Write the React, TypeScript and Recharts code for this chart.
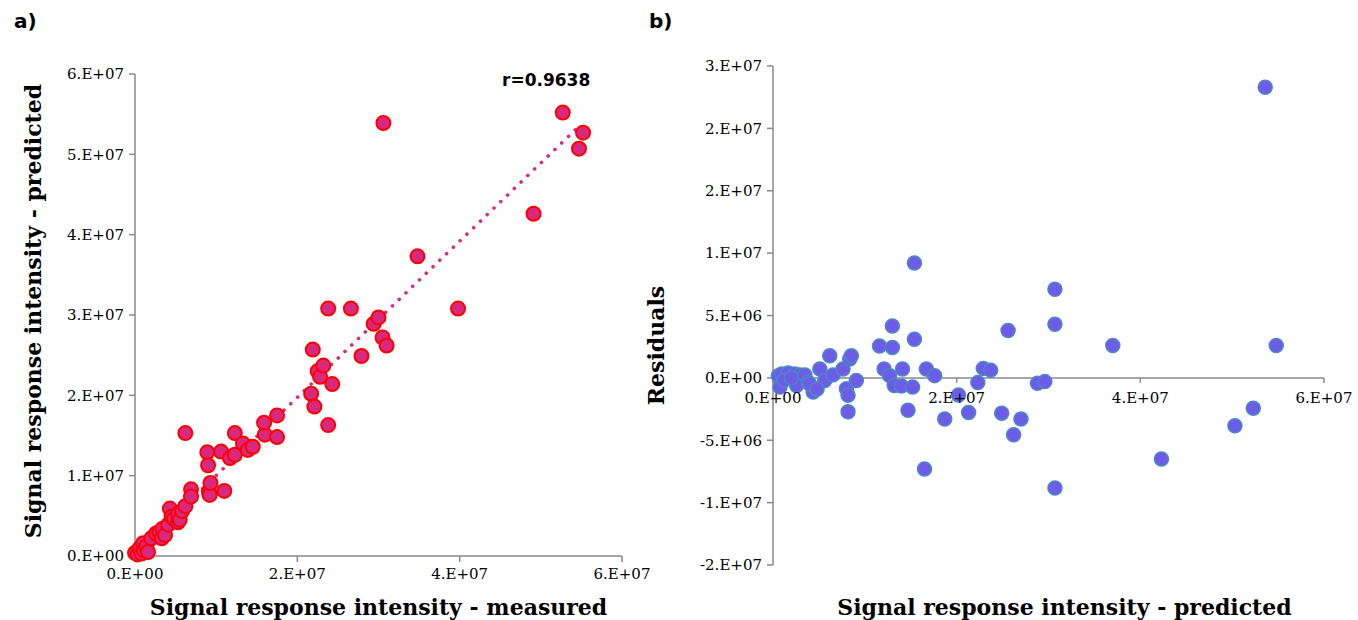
import React from 'react';
import { ScatterChart, Scatter, XAxis, YAxis, ReferenceLine, ReferenceDot } from 'recharts';

// values in units of 1e6 (axis labels carry the real exponent)

// a) measured vs predicted
const measured = [
  0.0, 0.3, 0.6, 0.8, 1.0, 1.1, 1.4, 1.6, 2.0, 2.6,
  3.0, 3.3, 3.4, 3.7, 4.1, 4.3, 4.5, 4.8, 5.3, 5.3,
  5.5, 5.8, 6.2, 6.2, 6.9, 6.9, 8.9, 9.0, 9.1, 9.2,
  9.3, 10.6, 11.0, 11.7, 12.3, 12.3, 13.3, 13.9, 14.5, 16.0,
  15.9, 17.5, 17.5, 21.7, 22.1, 21.9, 22.5, 22.8, 23.2, 24.3,
  23.8, 23.8, 26.6, 27.9, 29.4, 30.0, 30.5, 31.0, 30.6, 34.8,
  39.8, 49.1, 52.7, 55.2, 54.7,
];
const predicted = [
  0.4, 0.2, 1.0, 0.3, 1.6, 0.7, 1.2, 0.5, 2.2, 2.8,
  3.0, 2.2, 3.4, 2.6, 3.9, 5.9, 4.9, 4.6, 5.3, 4.2,
  4.5, 5.6, 6.2, 15.3, 8.3, 7.4, 12.9, 11.3, 8.0, 7.6,
  9.1, 13.0, 8.1, 12.2, 12.6, 15.3, 14.0, 13.2, 13.6, 15.1,
  16.6, 17.5, 14.8, 20.2, 18.6, 25.7, 23.0, 22.3, 23.7, 21.4,
  16.3, 30.8, 30.8, 24.9, 28.9, 29.7, 27.2, 26.2, 53.9, 37.3,
  30.8, 42.6, 55.2, 52.7, 50.7,
];
// linear trend line ends
const trendX = [0, 54.5];
const trendY = [0.3, 53.3];

const aYTicks = [0, 10, 20, 30, 40, 50, 60];
const aYLabels = ['0.E+00', '1.E+07', '2.E+07', '3.E+07', '4.E+07', '5.E+07', '6.E+07'];
const aXTicks = [0, 20, 40, 60];
const aXLabels = ['0.E+00', '2.E+07', '4.E+07', '6.E+07'];

// b) residuals vs predicted
const bPredicted = [
  0.58, 0.94, 1.66, 2.39, 2.93, 3.47, 0.76, 2.57, 3.83, 4.37,
  5.1, 5.64, 6.18, 6.54, 7.62, 8.35, 8.53, 8.0, 8.17, 9.08,
  8.17, 11.6, 12.1, 13.0, 13.0, 12.7, 13.2, 14.1, 14.0, 15.2,
  15.4, 14.7, 16.7, 17.6, 18.7, 15.4, 16.5, 22.9, 23.7, 22.3,
  20.2, 21.3, 24.9, 27.0, 26.2, 25.6, 28.8, 29.6, 30.7, 30.7,
  30.7, 37.0, 53.6, 54.8, 52.3, 50.3, 42.3, 1.2, 2.0, 4.0,
  4.8,
];
const residuals = [
  0.18, 0.32, 0.4, 0.32, 0.24, 0.24, -0.74, -0.61, -0.34, -1.14,
  0.71, -0.21, 1.77, 0.24, 0.71, 1.51, 1.77, -0.87, -1.4, -0.21,
  -2.72, 2.56, 0.71, 4.15, 2.44, 0.18, -0.61, 0.71, -0.66, -0.74,
  3.1, -2.6, 0.71, 0.18, -3.3, 9.2, -7.3, 0.76, 0.62, -0.38,
  -1.37, -2.77, -2.83, -3.3, -4.56, 3.8, -0.44, -0.3, 7.1, 4.3,
  -8.83, 2.6, 23.3, 2.6, -2.43, -3.84, -6.5, -0.2, 0.0, -0.5,
  -0.9,
];

const bYTicks = [-15, -10, -5, 0, 5, 10, 15, 20, 25];
const bYLabels = ['-2.E+07', '-1.E+07', '-5.E+06', '0.E+00', '5.E+06', '1.E+07', '2.E+07', '2.E+07', '3.E+07'];
const bXTicks = [0, 20, 40, 60];
const bXLabels = ['0.E+00', '2.E+07', '4.E+07', '6.E+07'];

const SERIF = '"DejaVu Serif", serif';
const SANS = '"DejaVu Sans", sans-serif';
const AXIS = '#898989';
const tickStyle = { fill: '#000', fontSize: 15, fontFamily: SERIF };
const titleStyle = { fill: '#000', fontSize: 22, fontFamily: SERIF, fontWeight: 'bold' };

const aPoints = measured.map((x, i) => ({ x, y: predicted[i] }));
const trend = trendX.map((x, i) => ({ x, y: trendY[i] }));
const bPoints = bPredicted.map((x, i) => ({ x, y: residuals[i] }));

const fmt = (ticks: number[], labels: string[]) => (v: number) => labels[ticks.indexOf(v)] ?? '';

const RedDot = (p: any) => (
  <circle cx={p.cx} cy={p.cy} r={7} fill="#d8297f" stroke="#ff0000" strokeWidth={2} />
);
const BlueDot = (p: any) => (
  <circle cx={p.cx} cy={p.cy} r={7} fill="#6c5ce7" stroke="#4f86c6" strokeWidth={1.5} />
);
const NoDot = () => <g />;
const ZeroTick = (p: any) => (
  <line x1={p.cx} y1={p.cy} x2={p.cx} y2={p.cy + 5} stroke={AXIS} strokeWidth={1.5} />
);

const corner: React.CSSProperties = {
  position: 'absolute',
  fontFamily: SANS,
  fontWeight: 'bold',
  fontSize: 20,
  lineHeight: '20px',
  color: '#000',
};

export default function App() {
  return (
    <div style={{ position: 'absolute', left: 0, top: 0, width: 1358, height: 620, background: '#fff' }}>
      <div style={{ ...corner, left: 14, top: 11 }}>a)</div>
      <div style={{ ...corner, left: 649, top: 11 }}>b)</div>
      <div style={{ ...corner, left: 502, top: 70, fontSize: 17 }}>r=0.9638</div>

      <div style={{ position: 'absolute', left: 0, top: 0 }}>
        <ScatterChart width={660} height={620} margin={{ top: 74, right: 38, bottom: 4, left: 10 }}>
          <XAxis
            type="number"
            dataKey="x"
            domain={[0, 60]}
            ticks={aXTicks}
            tickFormatter={fmt(aXTicks, aXLabels)}
            tick={tickStyle}
            tickMargin={6}
            height={60}
            stroke={AXIS}
            strokeWidth={1.5}
            label={{ value: 'Signal response intensity - measured', position: 'center', dy: 21, ...titleStyle }}
          />
          <YAxis
            type="number"
            dataKey="y"
            domain={[0, 60]}
            ticks={aYTicks}
            tickFormatter={fmt(aYTicks, aYLabels)}
            tick={tickStyle}
            tickMargin={5}
            width={125}
            stroke={AXIS}
            strokeWidth={1.5}
            label={{ value: 'Signal response intensity - predicted', position: 'center', angle: -90, dx: -39, dy: -4, ...titleStyle }}
          />
          <Scatter
            data={trend}
            shape={NoDot}
            line={{ stroke: '#d8297f', strokeWidth: 3.5, strokeDasharray: '0.1 9.3', strokeLinecap: 'round' }}
            isAnimationActive={false}
          />
          <Scatter data={aPoints} shape={RedDot} isAnimationActive={false} />
        </ScatterChart>
      </div>

      <div style={{ position: 'absolute', left: 630, top: 0 }}>
        <ScatterChart width={728} height={620} margin={{ top: 66, right: 34, bottom: 5, left: 10 }}>
          <XAxis
            type="number"
            dataKey="x"
            domain={[0, 60]}
            ticks={bXTicks}
            axisLine={false}
            tickLine={false}
            tick={false}
            height={50}
            label={{ value: 'Signal response intensity - predicted', position: 'center', dx: 16, dy: 17, ...titleStyle }}
          />
          <YAxis
            type="number"
            dataKey="y"
            domain={[-15, 25]}
            ticks={bYTicks}
            tickFormatter={fmt(bYTicks, bYLabels)}
            tick={tickStyle}
            tickMargin={5}
            width={133}
            stroke={AXIS}
            strokeWidth={1.5}
            label={{ value: 'Residuals', position: 'center', angle: -90, dx: -50, dy: 30, ...titleStyle }}
          />
          <ReferenceLine y={0} stroke={AXIS} strokeWidth={1.5} />
          {bXTicks.map((t, i) => (
            <ReferenceDot
              key={t}
              x={t}
              y={0}
              r={0}
              ifOverflow="visible"
              shape={ZeroTick}
              label={{ value: bXLabels[i], position: 'bottom', offset: 14, ...tickStyle }}
            />
          ))}
          <Scatter data={bPoints} shape={BlueDot} isAnimationActive={false} />
        </ScatterChart>
      </div>
    </div>
  );
}
